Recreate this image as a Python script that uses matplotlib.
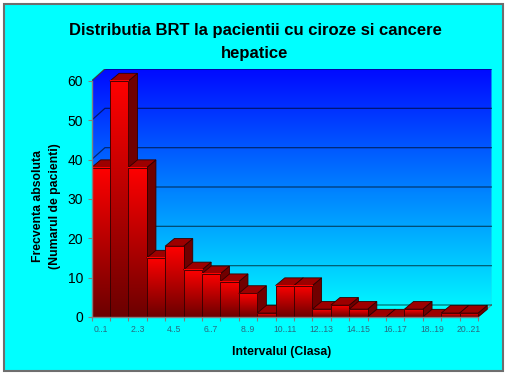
import numpy as np
import matplotlib
matplotlib.use("Agg")
import matplotlib.pyplot as plt
from matplotlib.patches import Polygon, Rectangle
from matplotlib.lines import Line2D

plt.rcParams['font.family'] = ['Liberation Sans', 'DejaVu Sans']

# ---- data ----
classes = [f"{i}..{i+1}" for i in range(21)]
counts = [38, 60, 38, 15, 18, 12, 11, 9, 6, 1, 8, 8, 2, 3, 2, 0, 0, 2, 0, 1, 1]
yticks = [0, 10, 20, 30, 40, 50, 60]
title = "Distributia BRT la pacientii cu ciroze si cancere\nhepatice"
ylabel = "Frecventa absoluta\n(Numarul de pacienti)"
xlabel = "Intervalul (Clasa)"

W, H = 509, 375
fig = plt.figure(figsize=(W / 100, H / 100), dpi=100, facecolor='white')
fig.patches.append(Rectangle((4 / W, 4 / H), 499 / W, 367 / H, transform=fig.transFigure,
                             facecolor='#00FFFF', edgecolor='#6e6e6e', lw=1.5, zorder=-5))

n = len(counts)
ymax = 60
# 3D offsets (data units)
wdx, wdy = 0.73, 3.05      # wall depth
bdx, bdy = 0.50, 1.95      # bar depth

ax = fig.add_axes([91.5 / W, 58 / H, 400 / W, 248 / H])
ax.patch.set_visible(False)
ax.set_zorder(1)

# ---- walls (gradient) ----
grad = np.linspace(0, 1, 256)[:, None]
top_c = np.array([0, 10, 255]) / 255
bot_c = np.array([0, 255, 255]) / 255
wall_img = (top_c[None, None, :] * (1 - grad[:, :, None]) + bot_c[None, None, :] * grad[:, :, None])
im = ax.imshow(wall_img, extent=(0, n + wdx, 0, ymax + wdy), aspect='auto', zorder=1,
               interpolation='bilinear')
wall_poly = Polygon([(0, 0), (0, ymax), (wdx, ymax + wdy), (n + wdx, ymax + wdy),
                     (n + wdx, wdy), (wdx, wdy)], closed=True, transform=ax.transData,
                    facecolor='none', edgecolor='none')
ax.add_patch(wall_poly)
im.set_clip_path(wall_poly)

# wall outlines
ax.add_line(Line2D([n + wdx, n + wdx], [wdy, ymax + wdy], color='#8a8a8a', lw=0.8, zorder=2))
ax.add_line(Line2D([n, n + wdx], [0, wdy], color='#8a8a8a', lw=0.8, zorder=2))
ax.add_line(Line2D([0, wdx], [ymax, ymax + wdy], color='#8a8a8a', lw=0.6, zorder=2))

# gridlines
for yv in yticks:
    ax.add_line(Line2D([0, wdx, n + wdx], [yv, yv + wdy, yv + wdy],
                       color='black', alpha=0.55, lw=0.9, zorder=2))

# ---- bars ----
fr_img_top = np.array([1.0, 0.0, 0.0])
fr_img_bot = np.array([0.42, 0.0, 0.0])
bar_grad = (fr_img_top[None, None, :] * (1 - grad[:, :, None]) + fr_img_bot[None, None, :] * grad[:, :, None])
bars = ax.bar(np.arange(n), counts, width=1.0, align='edge', facecolor='none',
              edgecolor='#300000', lw=0.6)
for i, (b, v) in enumerate(zip(bars, counts)):
    z = 10 + 4 * i
    x0, x1 = b.get_x(), b.get_x() + b.get_width()
    side = Polygon([(x1, 0), (x1 + bdx, bdy), (x1 + bdx, v + bdy), (x1, v)], closed=True,
                   facecolor='#700000', edgecolor='#300000', lw=0.6, zorder=z)
    topf = Polygon([(x0, v), (x1, v), (x1 + bdx, v + bdy), (x0 + bdx, v + bdy)], closed=True,
                   facecolor='#9c0000', edgecolor='#300000', lw=0.6, zorder=z + 1)
    ax.add_patch(side)
    ax.add_patch(topf)
    if v > 0:
        ax.imshow(bar_grad, extent=(x0, x1, 0, v), aspect='auto', zorder=z + 2,
                  interpolation='bilinear')
    b.set_zorder(z + 3)

# ---- axes ----
ax.set_xlim(0, n + wdx)
ax.set_ylim(0, ymax + wdy)
for s in ['top', 'right']:
    ax.spines[s].set_visible(False)
ax.spines['left'].set_bounds(0, ymax)
ax.spines['bottom'].set_bounds(0, n)
for s in ['left', 'bottom']:
    ax.spines[s].set_color('#808080')
    ax.spines[s].set_linewidth(1.0)
    ax.spines[s].set_zorder(200)

ax.set_yticks(yticks)
ax.set_yticklabels([str(t) for t in yticks])
ax.tick_params(axis='y', length=3, color='#808080', labelsize=10, pad=3, labelcolor='black')

ax.set_xticks(np.arange(n + 1))
ax.set_xticklabels([''] * (n + 1))
ax.tick_params(axis='x', which='major', length=3, color='#808080')
centers = [i + 0.5 for i in range(0, n, 2)]
ax.set_xticks(centers, minor=True)
ax.set_xticklabels([classes[i] for i in range(0, n, 2)], minor=True)
ax.tick_params(axis='x', which='minor', length=0, labelsize=6.2, pad=6, labelcolor='#2a6a80')

# ---- texts ----
fig.text(255 / W, 1 - 42 / H, title, ha='center', va='center', fontsize=12,
         fontweight='bold', linespacing=1.62)
fig.text(46.5 / W, 1 - 206 / H, ylabel, ha='center', va='center', rotation=90,
         fontsize=8.8, fontweight='bold', linespacing=1.6)
fig.text(282 / W, 1 - 352 / H, xlabel, ha='center', va='center', fontsize=8.8,
         fontweight='bold')

fig.savefig('out.png', dpi=100, facecolor=fig.get_facecolor())
